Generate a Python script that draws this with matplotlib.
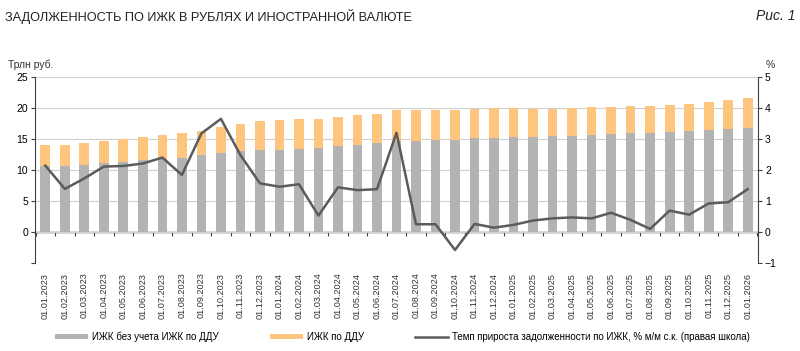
import matplotlib
matplotlib.use("Agg")
import matplotlib.pyplot as plt
import numpy as np

plt.rcParams['font.family'] = ['Liberation Sans', 'DejaVu Sans']

# даты (начало месяца)
dates = ['01.01.2023', '01.02.2023', '01.03.2023', '01.04.2023', '01.05.2023', '01.06.2023',
         '01.07.2023', '01.08.2023', '01.09.2023', '01.10.2023', '01.11.2023', '01.12.2023',
         '01.01.2024', '01.02.2024', '01.03.2024', '01.04.2024', '01.05.2024', '01.06.2024',
         '01.07.2024', '01.08.2024', '01.09.2024', '01.10.2024', '01.11.2024', '01.12.2024',
         '01.01.2025', '01.02.2025', '01.03.2025', '01.04.2025', '01.05.2025', '01.06.2025',
         '01.07.2025', '01.08.2025', '01.09.2025', '01.10.2025', '01.11.2025', '01.12.2025',
         '01.01.2026']

# ИЖК без учета ДДУ, трлн руб.
izhk_base = [10.7, 10.7, 10.8, 11.1, 11.35, 11.55, 11.8, 12.0, 12.35, 12.7, 13.05, 13.2,
             13.3, 13.45, 13.6, 13.85, 14.1, 14.4, 14.6, 14.7, 14.9, 14.9, 15.1, 15.2,
             15.3, 15.3, 15.45, 15.5, 15.7, 15.85, 15.95, 15.95, 16.1, 16.3, 16.45, 16.6,
             16.8]
# итог (с ДДУ), трлн руб.
izhk_total = [14.0, 14.1, 14.35, 14.7, 15.05, 15.27, 15.65, 15.9, 16.3, 16.9, 17.5, 17.85,
              18.05, 18.2, 18.3, 18.55, 18.8, 19.1, 19.7, 19.6, 19.7, 19.7, 19.9, 19.95,
              20.0, 19.9, 19.9, 19.95, 20.1, 20.2, 20.3, 20.27, 20.5, 20.7, 20.95, 21.25,
              21.55]
izhk_ddu = list(np.array(izhk_total) - np.array(izhk_base))

# темп прироста, % м/м с.к.
growth = [2.14, 1.39, 1.73, 2.11, 2.13, 2.21, 2.4, 1.84, 3.18, 3.65, 2.48, 1.57,
          1.46, 1.54, 0.53, 1.44, 1.35, 1.38, 3.2, 0.25, 0.25, -0.58, 0.26, 0.14,
          0.23, 0.37, 0.44, 0.47, 0.44, 0.62, 0.39, 0.1, 0.69, 0.56, 0.92, 0.96,
          1.38]

gray_c = '#b3b3b3'
orange_c = '#fdc57e'
line_c = '#5b5b5b'
axis_c = '#404040'

fig = plt.figure(figsize=(8, 3.51), dpi=100)
ax = fig.add_axes([35 / 800, 1 - 263 / 351, (758 - 35) / 800, (263 - 77) / 351])
x = np.arange(len(dates))

b1 = ax.bar(x, izhk_base, width=0.5, color=gray_c, zorder=2)
b2 = ax.bar(x, izhk_ddu, bottom=izhk_base, width=0.5, color=orange_c, zorder=2)
ax.set_xlim(-0.53, len(dates) - 0.47)
ax.set_ylim(-5, 25)
ax.set_yticks([-5, 0, 5, 10, 15, 20, 25])
ax.set_yticklabels(['', '0', '5', '10', '15', '20', '25'])
ax.grid(axis='y', color='#d0d0d0', linewidth=0.8, zorder=0)
ax.set_xticks(x)
ax.set_xticklabels(dates, rotation=90, fontsize=6.6, color='#333333')
ax.tick_params(axis='x', length=0, pad=7)
ax.tick_params(axis='y', direction='out', length=3, color=axis_c, labelsize=7.5, pad=2)
for s in ['top', 'right', 'bottom']:
    ax.spines[s].set_visible(False)
ax.spines['left'].set_color(axis_c)

# нулевая ось с делениями между столбцами
zax = ax.secondary_xaxis(1 / 6)
zax.set_xticks(np.arange(len(dates) + 1) - 0.5)
zax.set_xticklabels([])
zax.tick_params(direction='out', length=3, color=axis_c, width=0.8)
zax.spines['bottom'].set_color(axis_c)
zax.spines['bottom'].set_linewidth(1.0)

ax2 = ax.twinx()
l1, = ax2.plot(x, growth, color=line_c, linewidth=1.8, zorder=3)
ax2.set_ylim(-1, 5)
ax2.set_yticks([-1, 0, 1, 2, 3, 4, 5])
ax2.tick_params(axis='y', direction='out', length=3, color=axis_c, labelsize=7.5, pad=2)
for s in ['top', 'left', 'bottom']:
    ax2.spines[s].set_visible(False)
ax2.spines['right'].set_color(axis_c)

fig.text(5 / 800, 1 - 16 / 351, 'ЗАДОЛЖЕННОСТЬ ПО ИЖК В РУБЛЯХ И ИНОСТРАННОЙ ВАЛЮТЕ',
         fontsize=9.2, va='center', ha='left', color='#222222')
fig.text(795 / 800, 1 - 16 / 351, 'Рис. 1', fontsize=10, style='italic',
         va='center', ha='right', color='#222222')
fig.text(8 / 800, 1 - 65 / 351, 'Трлн руб.', fontsize=7.5, va='center', color='#333333')
fig.text(770 / 800, 1 - 65 / 351, '%', fontsize=7.5, va='center', ha='center', color='#333333')

legend_items = [(b1, 'ИЖК без учета ИЖК по ДДУ', 55),
                (b2, 'ИЖК по ДДУ', 270),
                (l1, 'Темп прироста задолженности по ИЖК, % м/м с.к. (правая школа)', 415)]
for h, lab, xpos in legend_items:
    fig.legend([h], [lab], loc='center left', bbox_to_anchor=(xpos / 800, 1 - 337 / 351),
               frameon=False, fontsize=7, handlelength=3.4, handleheight=0.45,
               handletextpad=0.4, borderpad=0, borderaxespad=0)

fig.savefig('out.png', dpi=100)
